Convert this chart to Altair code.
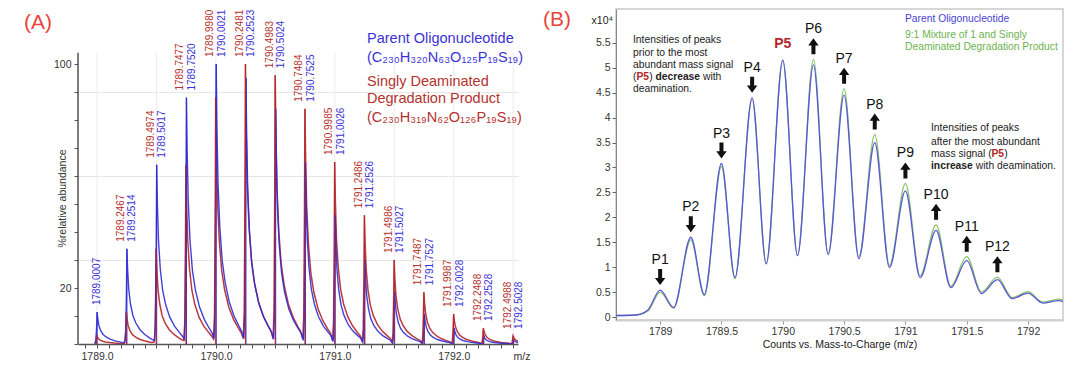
import altair as alt
import pandas as pd

FONT = "Liberation Sans"

# ---------------- Panel A: isotope peaks (% relative abundance) ----------------
blue_mz = [1789.0007, 1789.2514, 1789.5017, 1789.7520, 1790.0021, 1790.2523, 1790.5024, 1790.7525,
           1791.0026, 1791.2526, 1791.5027, 1791.7527, 1792.0028, 1792.2528, 1792.5028]
blue_rel = [11.4, 34, 64, 88, 100, 95, 84, 65, 46, 30, 18.5, 10.7, 5.7, 2.9, 1.5]
red_mz = [1788.9966, 1789.2467, 1789.4974, 1789.7477, 1789.9980, 1790.2481, 1790.4983, 1790.7484,
          1790.9985, 1791.2486, 1791.4986, 1791.7487, 1791.9987, 1792.2488, 1792.4988]
red_rel = [3.3, 11.4, 34, 64, 88, 100, 96, 84, 65, 46, 30, 18.5, 10.7, 5.7, 2.9]
red_labelled = [False] + [True] * 14
profile_dmz = [-0.018, -0.010, -0.004, 0.0, 0.006, 0.015, 0.030, 0.050, 0.075, 0.110, 0.150, 0.190, 0.215]
profile_frac = [0.02, 0.12, 0.55, 1.0, 0.78, 0.58, 0.42, 0.30, 0.22, 0.15, 0.10, 0.065, 0.045]

a_ticks = [round(1788.9 + 0.1 * i, 1) for i in range(37)]
a_grid = [1789.0, 1789.5, 1790.0, 1790.5, 1791.0, 1791.5, 1792.0, 1792.5]
a_yticks = list(range(0, 101, 10))
a_ytop = 104

# ---------------- Panel B: profile spectra (counts x10^4) ----------------
b_mz = [1788.64, 1788.80, 1788.90, 1789.00, 1789.11, 1789.25, 1789.36, 1789.50, 1789.61, 1789.75,
        1789.865, 1790.00, 1790.12, 1790.25, 1790.37, 1790.50, 1790.62, 1790.75, 1790.87, 1791.00,
        1791.12, 1791.25, 1791.37, 1791.50, 1791.62, 1791.75, 1791.87, 1792.00, 1792.12, 1792.25, 1792.29]
b_parent = [0.03, 0.04, 0.14, 0.54, 0.19, 1.60, 0.45, 3.08, 0.79, 4.40, 1.07, 5.15, 1.23, 5.06, 1.25,
            4.45, 1.17, 3.50, 0.99, 2.53, 0.79, 1.74, 0.59, 1.13, 0.47, 0.75, 0.37, 0.48, 0.28, 0.33, 0.31]
b_mix = [0.03, 0.04, 0.12, 0.50, 0.18, 1.55, 0.43, 3.02, 0.77, 4.36, 1.06, 5.16, 1.24, 5.17, 1.28,
         4.58, 1.21, 3.66, 1.03, 2.68, 0.83, 1.85, 0.62, 1.21, 0.50, 0.80, 0.39, 0.51, 0.30, 0.36, 0.33]
p_labels = ["P1", "P2", "P3", "P4", "P5", "P6", "P7", "P8", "P9", "P10", "P11", "P12"]
p_mz = [1789.00, 1789.25, 1789.50, 1789.75, 1790.00, 1790.25, 1790.50, 1790.75, 1791.00, 1791.25, 1791.50, 1791.75]
p_dir = ["down", "down", "down", "down", "none", "up", "up", "up", "up", "up", "up", "up"]
b_xticks = [1789, 1789.5, 1790, 1790.5, 1791, 1791.5, 1792]
b_yticks = [0, 0.5, 1, 1.5, 2, 2.5, 3, 3.5, 4, 4.5, 5, 5.5]

A_BLUE = "#2f2bd1"
A_RED = "#b3262b"
B_BLUE = "#5b56d8"
B_GREEN = "#88c46c"
PANEL_RED = "#e8453c"

one = pd.DataFrame({"a": [0]})


def txt(text, x, y, size=10.3, color="#222", weight="normal", align="left"):
    return alt.Chart(one).mark_text(
        text=text, fontSize=size, color=color, fontWeight=weight, align=align,
        baseline="middle", font=FONT
    ).encode(x=alt.value(x), y=alt.value(y))


# ---- build A traces ----
def trace(mzs, rels, name):
    rows = []
    for m, h in zip(mzs, rels):
        for d, f in zip(profile_dmz, profile_frac):
            rows.append({"mz": m + d, "rel": h * f, "series": name})
    return pd.DataFrame(rows).sort_values("mz").reset_index(drop=True)


tr_red = trace(red_mz, red_rel, "red")
tr_blue = trace(blue_mz, blue_rel, "blue")
sticks = pd.DataFrame({"mz": blue_mz + red_mz, "rel": blue_rel + red_rel,
                       "zero": 0.0, "series": ["blue"] * len(blue_mz) + ["red"] * len(red_mz)})
grid_df = pd.DataFrame({"mz": a_grid, "zero": 0.0, "rel": float(a_ytop)})

lab_rows = []
for i in range(len(blue_mz)):
    top = max(blue_rel[i], red_rel[i]) if red_labelled[i] else blue_rel[i]
    lab_rows.append({"mz": blue_mz[i], "rel": top, "label": f"{blue_mz[i]:.4f}",
                     "kind": "bpair" if red_labelled[i] else "bsingle"})
    if red_labelled[i]:
        lab_rows.append({"mz": red_mz[i], "rel": top, "label": f"{red_mz[i]:.4f}", "kind": "red"})
labels = pd.DataFrame(lab_rows)

A_H = 335
xA_scale = alt.Scale(domain=[1788.84, 1792.54], nice=False, zero=False)
yA_scale = alt.Scale(domain=[0, A_H / 2.8], nice=False)

xA_axis = alt.Axis(
    values=a_ticks, title=None, tickSize=4, tickColor="#555", domainColor="#555", domainWidth=1.5,
    labelExpr="abs(datum.value - round(datum.value)) < 0.001 ? format(datum.value, '.1f') : ''",
    labelOverlap=False, labelFlush=False, labelBound=False,
    labelFontSize=10.5, labelColor="#333", labelPadding=3, labelFont=FONT, grid=False,
)
yA_axis = alt.Axis(
    values=a_yticks, title="%relative abundance", titleFontSize=10.5, titleFontWeight="normal",
    titleColor="#333", titleFont=FONT, titleX=-16, titleY=189, titleAngle=270, titleBaseline="middle",
    titleAlign="center", domain=False,
    tickSize=4, tickColor="#555", labelOverlap=False,
    labelExpr="(datum.value == 20 || datum.value == 100) ? datum.label : ''",
    labelFontSize=10.5, labelColor="#333", labelPadding=3, labelFont=FONT,
    grid=True, gridColor="#e6e6e6",
    gridOpacity={"condition": {"test": "datum.value == 30 || datum.value == 60 || datum.value == 90", "value": 1}, "value": 0},
)


def XA(field="mz"):
    return alt.X(f"{field}:Q", scale=xA_scale, axis=xA_axis)


def YA(field="rel"):
    return alt.Y(f"{field}:Q", scale=yA_scale, axis=yA_axis)


a_vgrid = alt.Chart(grid_df).mark_rule(color="#ececec", strokeWidth=1).encode(
    x=XA(), y=YA("zero"), y2="rel:Q")
a_yline = alt.Chart(one).mark_rule(color="#555", strokeWidth=1.5).encode(
    x=alt.value(0), y=alt.datum(0, scale=yA_scale, axis=yA_axis), y2=alt.datum(a_ytop))
a_red_line = alt.Chart(tr_red).mark_line(color=A_RED, strokeWidth=1.5, clip=True, opacity=0.9).encode(
    x=XA(), y=YA(), order="mz:Q")
a_blue_line = alt.Chart(tr_blue).mark_line(color=A_BLUE, strokeWidth=1.4, clip=True, opacity=0.9).encode(
    x=XA(), y=YA(), order="mz:Q")
a_sticks = alt.Chart(sticks).mark_rule(strokeWidth=1, clip=True).encode(
    x=XA(), y=YA("zero"), y2="rel:Q",
    color=alt.Color("series:N", scale=alt.Scale(domain=["blue", "red"], range=[A_BLUE, A_RED]), legend=None))

lab_common = dict(angle=270, align="left", baseline="middle", fontSize=10, font=FONT, yOffset=-7)
a_lab_red = alt.Chart(labels).transform_filter("datum.kind == 'red'").mark_text(
    color="#b5322f", xOffset=-5.5, **lab_common).encode(x=XA(), y=YA(), text="label:N")
a_lab_blue = alt.Chart(labels).transform_filter("datum.kind == 'bpair'").mark_text(
    color="#3b32d6", xOffset=5.5, **lab_common).encode(x=XA(), y=YA(), text="label:N")
a_lab_single = alt.Chart(labels).transform_filter("datum.kind == 'bsingle'").mark_text(
    color="#3b32d6", xOffset=0, **lab_common).encode(x=XA(), y=YA(), text="label:N")

panelA = alt.layer(
    a_vgrid, a_red_line, a_blue_line, a_sticks, a_yline, a_lab_red, a_lab_blue, a_lab_single,
    txt("(A)", -40, 14, size=21, color=PANEL_RED, align="center"),
    txt("Parent Oligonucleotide", 289, 30, size=14.5, color="#3b32d6"),
    txt("(C₂₃₀H₃₂₀N₆₃O₁₂₅P₁₉S₁₉)", 289, 49, size=14.5, color="#3b32d6"),
    txt("Singly Deaminated", 289, 73, size=14.5, color="#b5322f"),
    txt("Degradation Product", 289, 90, size=14.5, color="#b5322f"),
    txt("(C₂₃₀H₃₁₉N₆₂O₁₂₆P₁₉S₁₉)", 289, 109, size=14.5, color="#b5322f"),
    txt("m/z", 444, 348, size=10.5, color="#333", align="center"),
).properties(width=440, height=A_H)

# ---- Panel B ----
b_df = pd.DataFrame({"mz": b_mz, "parent": b_parent, "mix": b_mix})
apex = []
for m in p_mz:
    k = min(range(len(b_mz)), key=lambda j: abs(b_mz[j] - m))
    apex.append(max(b_parent[k], b_mix[k]))
p_df = pd.DataFrame({"mz": p_mz, "val": apex, "label": p_labels, "dir": p_dir})

xB_scale = alt.Scale(domain=[1788.64, 1792.285], nice=False, zero=False)
yB_scale = alt.Scale(domain=[-0.06, 6.18], nice=False, zero=False)
xB_axis = alt.Axis(
    values=b_xticks, format="~f", title="Counts vs. Mass-to-Charge (m/z)", titleFontSize=10.5,
    titleFontWeight="normal", titleColor="#222", titleFont=FONT, titlePadding=3,
    tickSize=4, tickColor="#999", domainColor="#cfcfcf", domainWidth=2, labelOverlap=False,
    labelFontSize=10.5, labelColor="#333", labelPadding=2, labelFont=FONT, grid=False)
yB_axis = alt.Axis(
    values=b_yticks, format="~g", title=None, tickSize=4, tickColor="#666", domainColor="#888",
    labelOverlap=False, labelFontSize=10.5, labelColor="#333", labelPadding=2, labelFont=FONT, grid=False)


def XB(field="mz"):
    return alt.X(f"{field}:Q", scale=xB_scale, axis=xB_axis)


def YB(field):
    return alt.Y(f"{field}:Q", scale=yB_scale, axis=yB_axis)


b_green = alt.Chart(b_df).mark_line(color=B_GREEN, strokeWidth=1.3, interpolate="monotone", clip=True).encode(
    x=XB(), y=YB("mix"))
b_blue = alt.Chart(b_df).mark_line(color=B_BLUE, strokeWidth=1.3, interpolate="monotone", clip=True).encode(
    x=XB(), y=YB("parent"))

DOWN = "M-0.25,-1L0.25,-1L0.25,0.1L0.65,0.1L0,1L-0.65,0.1L-0.25,0.1Z"
UP = "M-0.25,1L0.25,1L0.25,-0.1L0.65,-0.1L0,-1L-0.65,-0.1L-0.25,-0.1Z"
b_down = alt.Chart(p_df).transform_filter("datum.dir == 'down'").mark_point(
    shape=DOWN, size=256, filled=True, color="#111", opacity=1, strokeWidth=0, yOffset=-13).encode(
    x=XB(), y=YB("val"))
b_up = alt.Chart(p_df).transform_filter("datum.dir == 'up'").mark_point(
    shape=UP, size=256, filled=True, color="#111", opacity=1, strokeWidth=0, yOffset=-13).encode(
    x=XB(), y=YB("val"))
b_plab = alt.Chart(p_df).transform_filter("datum.dir != 'none'").mark_text(
    fontSize=14, font=FONT, color="#111", yOffset=-30, baseline="middle").encode(
    x=XB(), y=YB("val"), text="label:N")
b_p5 = alt.Chart(p_df).transform_filter("datum.dir == 'none'").mark_text(
    fontSize=14, font=FONT, color="#b3262b", fontWeight="bold", yOffset=-16, baseline="middle").encode(
    x=XB(), y=YB("val"), text="label:N")

panelB = alt.layer(
    b_green, b_blue, b_down, b_up, b_plab, b_p5,
    txt("(B)", -59, 11, size=21, color=PANEL_RED, align="center"),
    txt("x10⁴", -3, 12, size=10.5, color="#222", align="right"),
    txt("Parent Oligonucleotide", 289, 10, size=10.3, color="#4b3fd3"),
    txt("9:1 Mixture of 1 and Singly", 289, 26, size=10.3, color="#6db350"),
    txt("Deaminated Degradation Product", 289, 38, size=10.3, color="#6db350"),
    # left note
    txt("Intensities of peaks", 17, 31),
    txt("prior to the most", 17, 43.7),
    txt("abundant mass signal", 17, 56),
    txt("(", 17, 67.7),
    txt("P5", 20.5, 67.7, color="#b3262b", weight="bold"),
    txt(")", 33.2, 67.7),
    txt("decrease", 39.4, 67.7, weight="bold"),
    txt("with", 87, 67.7),
    txt("deamination.", 17, 80.3),
    # right note
    txt("Intensities of peaks", 315, 119.3),
    txt("after the most abundant", 315, 132.7),
    txt("mass signal (", 315, 145),
    txt("P5", 375.5, 145, color="#b3262b", weight="bold"),
    txt(")", 388.2, 145),
    txt("increase", 315, 157, weight="bold"),
    txt("with deamination.", 359.8, 157),
).properties(width=447, height=311, view=alt.ViewBackground(stroke="#d6d6d6", strokeWidth=2))

chart = alt.hconcat(panelA, panelB, spacing=11).properties(
    padding={"left": 15, "top": 0, "right": 0, "bottom": 0}
).configure_view(stroke="transparent").configure_text(font=FONT)

chart.save("out.html", embed_options={"renderer": "svg", "actions": False})
